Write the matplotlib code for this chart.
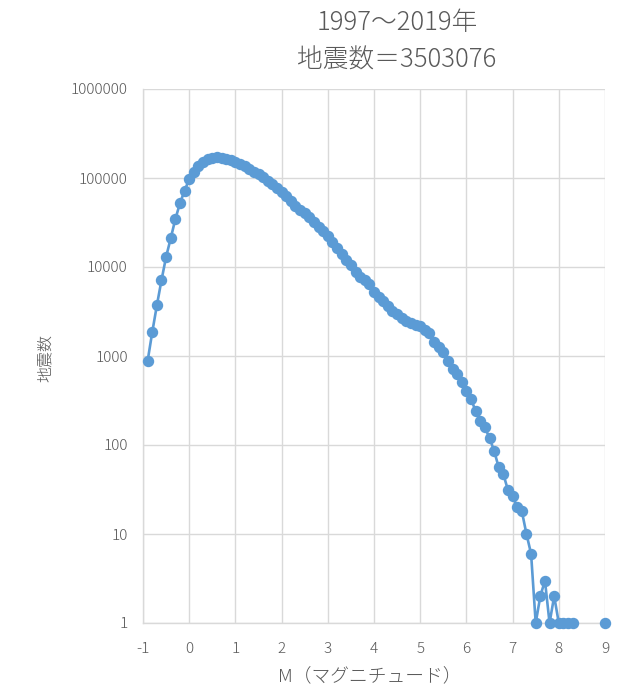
import matplotlib
matplotlib.use("Agg")
import matplotlib.pyplot as plt

plt.rcParams['font.family'] = ['Noto Sans CJK JP', 'DejaVu Sans']

magnitudes = [-0.9, -0.8, -0.7, -0.6, -0.5, -0.4, -0.3, -0.2, -0.1,
              0.0, 0.1, 0.2, 0.3, 0.4, 0.5, 0.6, 0.7, 0.8, 0.9,
              1.0, 1.1, 1.2, 1.3, 1.4, 1.5, 1.6, 1.7, 1.8, 1.9,
              2.0, 2.1, 2.2, 2.3, 2.4, 2.5, 2.6, 2.7, 2.8, 2.9,
              3.0, 3.1, 3.2, 3.3, 3.4, 3.5, 3.6, 3.7, 3.8, 3.9,
              4.0, 4.1, 4.2, 4.3, 4.4, 4.5, 4.6, 4.7, 4.8, 4.9,
              5.0, 5.1, 5.2, 5.3, 5.4, 5.5, 5.6, 5.7, 5.8, 5.9,
              6.0, 6.1, 6.2, 6.3, 6.4, 6.5, 6.6, 6.7, 6.8, 6.9,
              7.0, 7.1, 7.2, 7.3, 7.4, 7.5, 7.6, 7.7, 7.8, 7.9,
              8.0, 8.1, 8.2, 8.3, 8.4, 8.5, 8.6, 8.7, 8.8, 8.9, 9.0]

nan = float('nan')  # magnitudes with no events (not drawable on a log axis)
counts = [880, 1850, 3700, 7100, 13000, 21000, 34500, 52000, 72000,
          97000, 118000, 138000, 153000, 163000, 168000, 170000, 168000, 164000, 158000,
          152000, 144000, 135000, 125000, 117000, 110000, 103000, 92000, 85000, 77000,
          69000, 62000, 55000, 49000, 44000, 40000, 36000, 32000, 28500, 25500,
          22500, 19000, 16500, 14000, 12000, 10500, 8800, 7800, 7100, 6400,
          5200, 4600, 4100, 3600, 3200, 2950, 2650, 2500, 2350, 2250,
          2150, 1950, 1800, 1450, 1250, 1100, 880, 720, 620, 515,
          400, 330, 240, 185, 158, 120, 86, 56, 47, 31,
          27, 20, 18, 10, 6, 1, 2, 3, 1, 2,
          1, 1, 1, 1, nan, nan, nan, nan, nan, nan, 1]

x_ticks = [-1, 0, 1, 2, 3, 4, 5, 6, 7, 8, 9]
y_ticks = [1, 10, 100, 1000, 10000, 100000, 1000000]
y_tick_labels = ["1", "10", "100", "1000", "10000", "100000", "1000000"]

title_lines = ["1997～2019年", "地震数＝3503076"]
x_label = "M（マグニチュード）"
y_label = "地震数"

assert len(magnitudes) == len(counts)

text_color = "#595959"
grid_color = "#d9d9d9"
series_color = "#5b9bd5"

fig = plt.figure(figsize=(6.4, 7.0), dpi=100)
ax = fig.add_axes([143/640, 1 - 623/700, 462/640, 534/700])

ax.plot(magnitudes, counts, color=series_color, linewidth=1.9,
        marker='o', markersize=7.2, markerfacecolor=series_color,
        markeredgecolor=series_color, clip_on=False, zorder=3)

ax.set_yscale('log')
ax.set_xlim(-1, 9)
ax.set_ylim(1, 1000000)
ax.set_xticks(x_ticks)
ax.set_xticklabels([str(t) for t in x_ticks])
ax.set_yticks(y_ticks)
ax.set_yticklabels(y_tick_labels)
ax.minorticks_off()
ax.tick_params(axis='both', length=0, labelsize=11, colors=text_color)
ax.tick_params(axis='x', pad=14)
ax.tick_params(axis='y', pad=11)
for lbl in ax.get_xticklabels() + ax.get_yticklabels():
    lbl.set_fontweight('light')

ax.grid(True, color=grid_color, linewidth=1.0, zorder=0)
ax.set_axisbelow(True)
for side in ['top', 'right']:
    ax.spines[side].set_visible(False)
for side in ['left', 'bottom']:
    ax.spines[side].set_color(grid_color)
    ax.spines[side].set_linewidth(1.0)

fig.text(397/640, 1 - 23/700, title_lines[0], ha='center', va='center',
         fontsize=18.5, color=text_color, fontweight='light')
fig.text(397/640, 1 - 60/700, title_lines[1], ha='center', va='center',
         fontsize=18.5, color=text_color, fontweight='light')

fig.text(370/640, 1 - 676/700, x_label, ha='center', va='center',
         fontsize=13.5, color=text_color, fontweight='light')
fig.text(45/640, 1 - 358/700, y_label, ha='center', va='center',
         fontsize=11.5, color=text_color, rotation=90, fontweight='light')

fig.savefig("out.png", dpi=100, facecolor='white')
